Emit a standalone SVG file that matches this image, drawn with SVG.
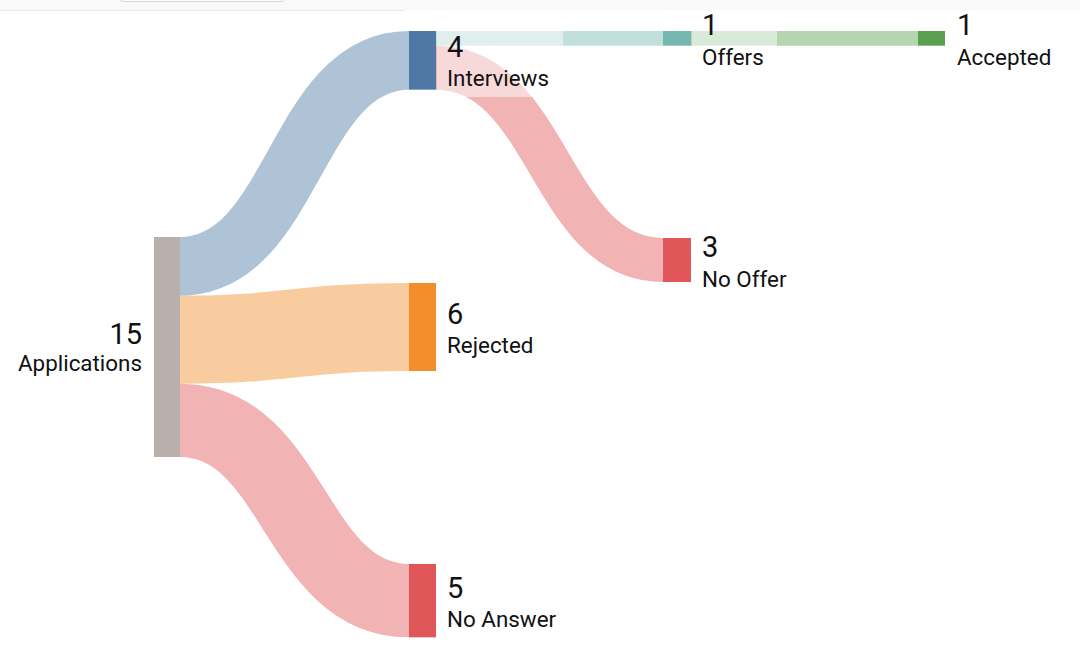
<svg xmlns="http://www.w3.org/2000/svg" width="1080" height="645" viewBox="0 0 1080 645">
<style>
  .flow { fill: none; stroke-opacity: 0.45; }
  .num { font-family: Roboto, "Liberation Sans", sans-serif; font-size: 29px; fill: #111; }
  .lbl { font-family: Roboto, "Liberation Sans", sans-serif; font-size: 22.4px; fill: #111; }
  .bg { fill: #ffffff; fill-opacity: 0.5; }
  .end { text-anchor: end; }
</style>
<rect x="0" y="0" width="1080" height="645" fill="#ffffff"/>
<rect x="0" y="0" width="1080" height="10" fill="#f8f9f9"/>
<line x1="0" y1="10.5" x2="405" y2="10.5" stroke="#e8e9e9" stroke-width="1"/>
<rect x="120" y="-6" width="164" height="7.5" rx="3" fill="#fbfbfb" stroke="#d8d8d8" stroke-width="1"/>

<g id="connectors">
  <path class="flow" stroke="#4e79a7" stroke-width="58.67" d="M180,266.33 C294.5,266.33 294.5,60.33 409,60.33"/>
  <path class="flow" stroke="#f28e2c" stroke-width="88" d="M180,339.67 C294.5,339.67 294.5,327 409,327"/>
  <path class="flow" stroke="#e15759" stroke-width="73.33" d="M180,420.33 C294.5,420.33 294.5,600.67 409,600.67"/>
  <path class="flow" stroke="#76b7b2" stroke-width="14.67" d="M436,38.33 L663,38.33"/>
  <path class="flow" stroke="#e15759" stroke-width="44" d="M436,67.67 C549.5,67.67 549.5,260 663,260"/>
  <path class="flow" stroke="#59a14f" stroke-width="14.67" d="M691,38.33 L918,38.33"/>
</g>

<g id="node-applications">
  <rect x="154" y="237" width="26" height="220" fill="#bab0ab"/>
  <rect class="bg" x="12" y="314" width="140" height="68"/>
  <text class="num end" x="142" y="344">15</text>
  <text class="lbl end" x="142" y="371">Applications</text>
</g>

<g id="node-interviews">
  <rect x="409" y="31" width="27" height="58.67" fill="#4e79a7"/>
  <rect class="bg" x="437" y="27" width="126" height="70"/>
  <text class="num" x="447" y="57">4</text>
  <text class="lbl" x="447" y="86">Interviews</text>
</g>

<g id="node-rejected">
  <rect x="409" y="283" width="27" height="88" fill="#f28e2c"/>
  <rect class="bg" x="437" y="294" width="111" height="70"/>
  <text class="num" x="447" y="324">6</text>
  <text class="lbl" x="447" y="353">Rejected</text>
</g>

<g id="node-noanswer">
  <rect x="409" y="564" width="27" height="73.33" fill="#e15759"/>
  <rect class="bg" x="437" y="568" width="134" height="70"/>
  <text class="num" x="447" y="597.5">5</text>
  <text class="lbl" x="447" y="626.5">No Answer</text>
</g>

<g id="node-offers">
  <rect x="663" y="31" width="28" height="14.67" fill="#76b7b2"/>
  <rect class="bg" x="692" y="11" width="85" height="64"/>
  <text class="num" x="702" y="35">1</text>
  <text class="lbl" x="702" y="64.5">Offers</text>
</g>

<g id="node-nooffer">
  <rect x="663" y="238" width="28" height="44" fill="#e15759"/>
  <rect class="bg" x="692" y="227" width="108" height="70"/>
  <text class="num" x="702" y="257">3</text>
  <text class="lbl" x="702" y="286.5">No Offer</text>
</g>

<g id="node-accepted">
  <rect x="918" y="31" width="27" height="14.67" fill="#59a14f"/>
  <rect class="bg" x="947" y="11" width="120" height="64"/>
  <text class="num" x="957" y="35">1</text>
  <text class="lbl" x="957" y="64.5">Accepted</text>
</g>
</svg>
